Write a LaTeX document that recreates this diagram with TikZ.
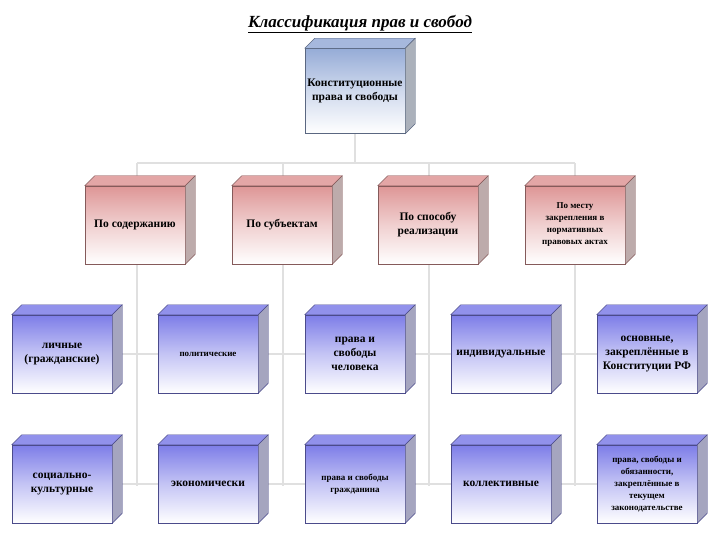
\documentclass[tikz,border=0pt]{standalone}
\usepackage{fontspec}
\setmainfont{Liberation Serif}
\begin{document}
\begin{tikzpicture}[x=1pt,y=-1pt,
  conn/.style={draw=black!12,line width=2pt},
  box/.style={draw=#1!60!black,line width=0.5pt,minimum width=100pt,minimum height=78pt,
    inner sep=1pt,align=center,font=\bfseries\fontsize{11.5}{14}\selectfont,
    top color=#1,bottom color=white,middle color=#1!45!white},
  sm/.style={font=\bfseries\fontsize{9}{12}\selectfont},
]
\useasboundingbox (0,0) rectangle (720,540);
\definecolor{cb}{RGB}{150,172,215}
\definecolor{cr}{RGB}{222,150,150}
\definecolor{cv}{RGB}{125,125,232}
\newcommand\cub[5]{%
  \node[box=#4,#5] (#1) at (#2) {#3};
  \fill[#4!85!white,draw=#4!60!black,line width=0.4pt] (#1.north west)--++(10,-10)--([shift={(10,-10)}]#1.north east)--(#1.north east)--cycle;
  \fill[#4!35!gray!70!white,draw=#4!60!black,line width=0.4pt] (#1.north east)--++(10,-10)--([shift={(10,-10)}]#1.south east)--(#1.south east)--cycle;}
\node[font=\bfseries\itshape\fontsize{17}{20}\selectfont] (title) at (360,24) {\underline{Классификация прав и свобод}};
% connectors
\coordinate (h1) at (137,163); \coordinate (h2) at (575,163);
\draw[conn] (355,133)--(355,163);
\draw[conn] (h1)--(h2);
\foreach \x in {137,283,429,575}{
  \draw[conn] (\x,163)--(\x,486);
  \draw[conn] (\x-25,354)--(\x+25,354);
  \draw[conn] (\x-25,484)--(\x+25,484);}
\cub{top}{355,91}{Конституционные\\права и свободы}{cb}{minimum height=85pt}
\cub{a}{135,225}{По содержанию}{cr}{}
\cub{b}{282,225}{По субъектам}{cr}{}
\cub{c}{428,225}{По способу\\реализации}{cr}{}
\cub{d}{575,225}{По месту\\закрепления в\\нормативных\\правовых актах}{cr}{sm}
\cub{e1}{62,354}{личные\\(гражданские)}{cv}{}
\cub{e2}{208,354}{политические}{cv}{sm}
\cub{e3}{355,354}{права и\\свободы\\человека}{cv}{}
\cub{e4}{501,354}{индивидуальные}{cv}{}
\cub{e5}{647,354}{основные,\\закреплённые в\\Конституции РФ}{cv}{}
\cub{f1}{62,484}{социально-\\культурные}{cv}{}
\cub{f2}{208,484}{экономически}{cv}{}
\cub{f3}{355,484}{права и свободы\\гражданина}{cv}{sm}
\cub{f4}{501,484}{коллективные}{cv}{}
\cub{f5}{647,484}{права, свободы и\\обязанности,\\закреплённые в\\текущем\\законодательстве}{cv}{sm}
\end{tikzpicture}
\end{document}
